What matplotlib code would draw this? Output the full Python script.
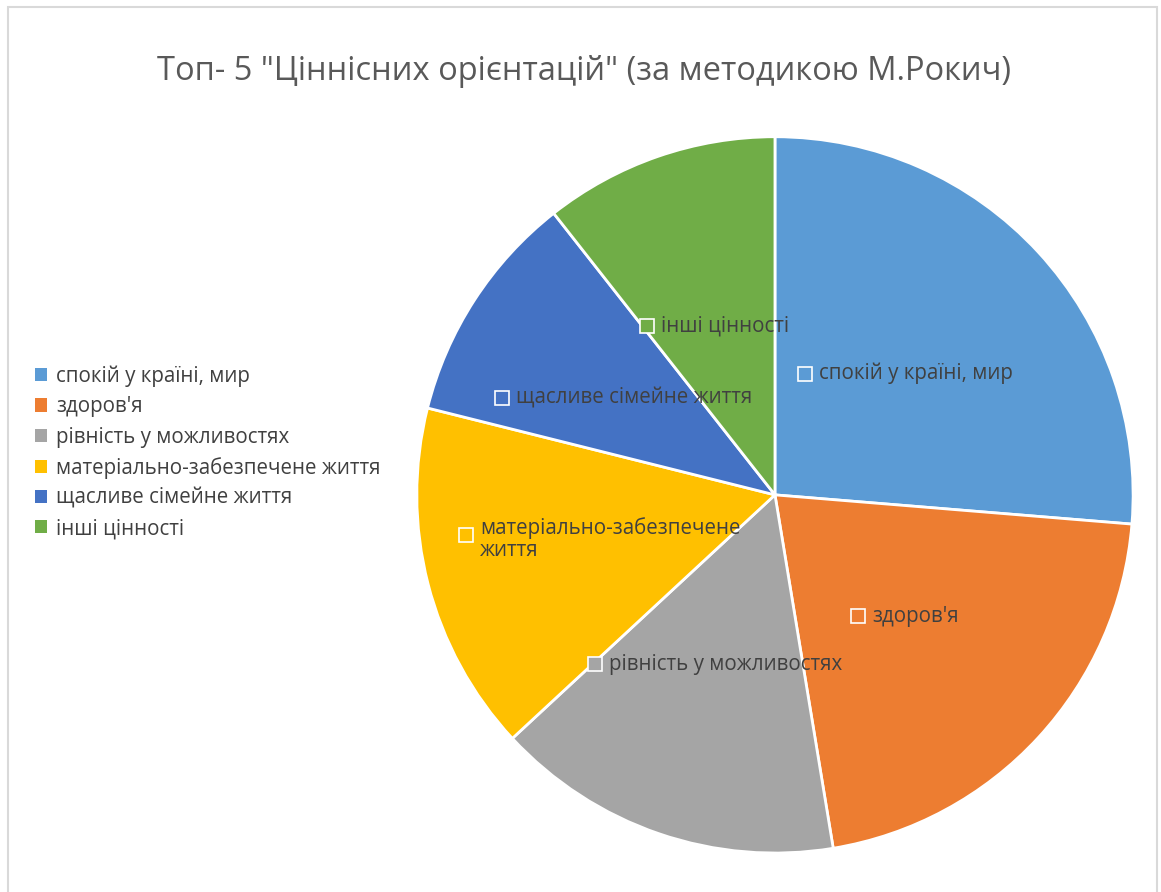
import matplotlib.pyplot as plt
from matplotlib.patches import Rectangle
import numpy as np

plt.rcParams['font.family'] = ['Open Sans', 'DejaVu Sans']

title = 'Топ- 5 "Ціннісних орієнтацій" (за методикою М.Рокич)'
labels = ['спокій у країні, мир', "здоров'я", 'рівність у можливостях',
          'матеріально-забезпечене життя', 'щасливе сімейне життя', 'інші цінності']
slice_labels = ['спокій у країні, мир', "здоров'я", 'рівність у можливостях',
                'матеріально-забезпечене\nжиття', 'щасливе сімейне життя', 'інші цінності']
values = [26.3, 21.1, 15.7, 15.8, 10.5, 10.6]
colors = ['#5b9bd5', '#ed7d31', '#a5a5a5', '#ffc000', '#4472c4', '#70ad47']
text_color = '#404040'

fig = plt.figure(figsize=(11.61, 8.92), dpi=100)
# chart border
fig.patches.append(Rectangle((8 / 1161, -0.1), 1149 / 1161, 1.1 - 7 / 892,
                             transform=fig.transFigure, fill=False,
                             edgecolor='#d9d9d9', linewidth=1.5))

fig.text(0.503, 1 - 71 / 892, title, ha='center', va='center',
         fontsize=23.5, color='#595959')

ax = fig.add_axes([0.359, 0.0437, 0.617, 0.803])
wedges, _ = ax.pie(values, colors=colors, startangle=90, counterclock=False,
                   wedgeprops=dict(edgecolor='white', linewidth=2))
ax.set_aspect('equal')
ax.set_xlim(-1, 1)
ax.set_ylim(-1, 1)

# data labels inside slices, with small colour key
texts = []
for w, lab in zip(wedges, slice_labels):
    mid = np.deg2rad((w.theta1 + w.theta2) / 2)
    x, y = 0.5 * np.cos(mid), 0.5 * np.sin(mid)
    t = ax.text(x, y, lab, ha='center', va='center', fontsize=14.8,
                color=text_color, linespacing=1.05, multialignment='left')
    texts.append(t)

fig.canvas.draw()
r = fig.canvas.get_renderer()
for t, w in zip(texts, wedges):
    bb = t.get_window_extent(r)
    x, y = t.get_position()
    px, py = ax.transData.transform((x, y))
    shift = 9
    t.set_position(ax.transData.inverted().transform((px + shift, py)))
    mx = bb.x0 + shift - 14
    my = py
    if '\n' in t.get_text():
        my = py + 4
    ax.plot(*ax.transData.inverted().transform((mx, my)), marker='s',
            markersize=10, markerfacecolor=w.get_facecolor(),
            markeredgecolor='white', markeredgewidth=1.2)

# legend on the left
handles = [Rectangle((0, 0), 1, 1, facecolor=c, edgecolor='none') for c in colors]
fig.legend(handles, labels, loc='upper left', bbox_to_anchor=(16 / 1161, 1 - 347 / 892),
           frameon=False, fontsize=14.8, labelcolor=text_color,
           handlelength=0.6, handleheight=0.6, handletextpad=0.45,
           labelspacing=0.45)

fig.savefig('out.png', dpi=100)
